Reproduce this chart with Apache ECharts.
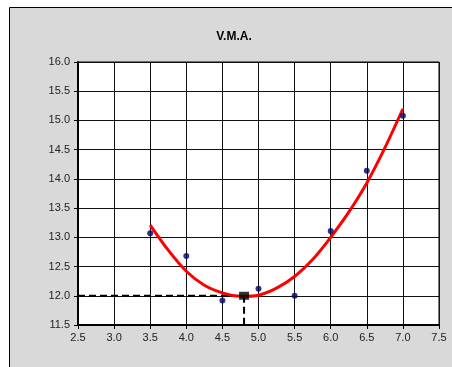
<!DOCTYPE html>
<html>
<head>
<meta charset="utf-8">
<script src="https://cdn.jsdelivr.net/npm/echarts@6/dist/echarts.min.js"></script>
<style>
html,body{margin:0;padding:0;background:#fff;}
#c{width:452px;height:367px;}
</style>
</head>
<body>
<div id="c"></div>
<script>
// Data
var xPoints = [3.5, 4.0, 4.5, 5.0, 5.5, 6.0, 6.5, 7.0];
var yPoints = [13.07, 12.68, 11.92, 12.12, 12.0, 13.11, 14.14, 15.08];
var fitX = [3.5, 3.75, 4.0, 4.25, 4.5, 4.75, 5.0, 5.25, 5.5, 5.75, 6.0, 6.25, 6.5, 6.75, 7.0];
var fitY = [13.21, 12.78, 12.42, 12.18, 12.05, 11.99, 12.01, 12.13, 12.33, 12.62, 13.0, 13.43, 13.93, 14.53, 15.2];
var optX = 4.8;
var optY = 12.0;
var xMin = 2.5, xMax = 7.5, xStep = 0.5;
var yMin = 11.5, yMax = 16.0, yStep = 0.5;
var titleText = 'V.M.A.';

function zip(a, b) { return a.map(function (v, i) { return [v, b[i]]; }); }

var chart = echarts.init(document.getElementById('c'), null, {renderer: 'canvas'});
var font = 'Liberation Sans, Arial, sans-serif';
chart.setOption({
  animation: false,
  backgroundColor: '#ffffff',
  graphic: [{
    type: 'rect', z: -10, silent: true,
    shape: {x: 9.5, y: 7.5, width: 460, height: 400},
    style: {fill: '#d9d9d9', stroke: '#000', lineWidth: 1}
  }],
  title: {
    text: titleText, left: 229, top: 26, textAlign: 'center',
    textStyle: {fontFamily: font, fontSize: 12, fontWeight: 'bold', color: '#000'}
  },
  grid: {
    left: 78, top: 62, width: 361, height: 263,
    show: true, backgroundColor: '#ffffff', borderColor: '#000', borderWidth: 1
  },
  xAxis: {
    type: 'value', min: xMin, max: xMax, interval: xStep,
    axisLine: {show: true, onZero: false, lineStyle: {color: '#000', width: 2}},
    axisTick: {show: true, length: 4, lineStyle: {color: '#000'}},
    axisLabel: {margin: 7, color: '#222', fontFamily: font, fontSize: 11,
      formatter: function (v) { return v.toFixed(1); }},
    splitLine: {show: true, lineStyle: {color: '#111', width: 1}}
  },
  yAxis: {
    type: 'value', min: yMin, max: yMax, interval: yStep,
    axisLine: {show: true, onZero: false, lineStyle: {color: '#000', width: 2}},
    axisTick: {show: true, length: 4, lineStyle: {color: '#000'}},
    axisLabel: {margin: 8, color: '#222', fontFamily: font, fontSize: 11,
      formatter: function (v) { return v.toFixed(1); }},
    splitLine: {show: true, lineStyle: {color: '#111', width: 1}}
  },
  series: [
    {
      type: 'line', data: [[xMin, optY], [optX, optY]], symbol: 'none', z: 3,
      lineStyle: {color: '#000', width: 2, type: [7, 4]}
    },
    {
      type: 'line', data: [[optX, optY], [optX, yMin]], symbol: 'none', z: 3,
      lineStyle: {color: '#000', width: 2, type: [7, 4]}
    },
    {
      type: 'line', data: zip(fitX, fitY), smooth: 0.3, symbol: 'none', z: 4,
      lineStyle: {color: '#ff0000', width: 3}
    },
    {
      type: 'scatter', data: zip(xPoints, yPoints), symbol: 'circle', symbolSize: 6, z: 5,
      itemStyle: {color: '#000066'}
    },
    {
      type: 'scatter', data: [[optX, optY]], symbol: 'rect', symbolSize: [10, 8], z: 6,
      itemStyle: {color: '#000'}
    }
  ]
});
</script>
</body>
</html>
